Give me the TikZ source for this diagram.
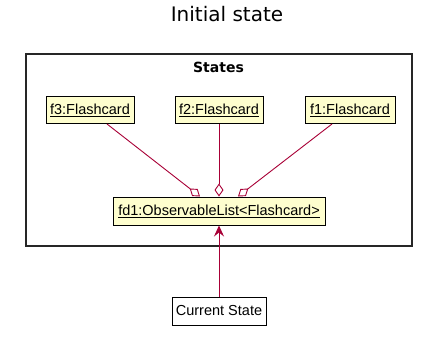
\documentclass[tikz,border=0pt]{standalone}
\usepackage{fontspec}
\setmainfont{Liberation Sans}
\newfontfamily\titlefont{DejaVu Sans}
\usetikzlibrary{arrows.meta,calc}
\definecolor{objfill}{HTML}{FEFECE}
\definecolor{linkred}{HTML}{A80036}
\begin{document}
\begin{tikzpicture}[x=1pt,y=-1pt,
  objbox/.style={draw=black, fill=objfill, line width=1pt, minimum height=27pt,
    inner sep=0pt, font=\fontsize{14.5}{16}\selectfont},
  plainbox/.style={draw=black, fill=white, line width=1pt, minimum height=28pt,
    minimum width=94pt, inner sep=0pt, font=\fontsize{14.5}{16}\selectfont},
  aggline/.style={draw=linkred, line width=0.9pt,
    -{Diamond[open, length=13pt, width=9pt, line width=0.9pt]}},
  refline/.style={draw=linkred, line width=0.9pt,
    -{Stealth[length=11pt, width=10pt, inset=4pt]}},
  pkg/.style={draw=black!85, line width=1.5pt}]
\useasboundingbox (0,0) rectangle (424,338);

% title
\node[anchor=base, font=\titlefont\fontsize{20}{24}\selectfont] (title) at (227,21.5) {Initial state};

% package frame
\draw[pkg] (26,54) rectangle (412,246);
\node[anchor=base, font=\titlefont\bfseries\fontsize{14}{16}\selectfont] (pkgname) at (218.5,72) {States};

% objects
\node[objbox, minimum width=88pt] (f3) at (90,110) {\underline{f3:Flashcard}};
\node[objbox, minimum width=88pt] (f2) at (219,110) {\underline{f2:Flashcard}};
\node[objbox, minimum width=90pt] (f1) at (350,110) {\underline{f1:Flashcard}};
\node[objbox, minimum width=212pt, minimum height=28pt] (fd1) at (219,211) {\underline{fd1:ObservableList<Flashcard>}};
\node[plainbox] (cur) at (219,311) {Current State};

% aggregation links
\draw[aggline] ($(f3.south)+(17,0)$) -- ($(fd1.north)+(-19,0)$);
\draw[aggline] (f2.south) -- (fd1.north);
\draw[aggline] ($(f1.south)+(-18,0)$) -- ($(fd1.north)+(19,0)$);

% reference to the current state
\draw[refline] (cur.north) -- (fd1.south);
\end{tikzpicture}
\end{document}
